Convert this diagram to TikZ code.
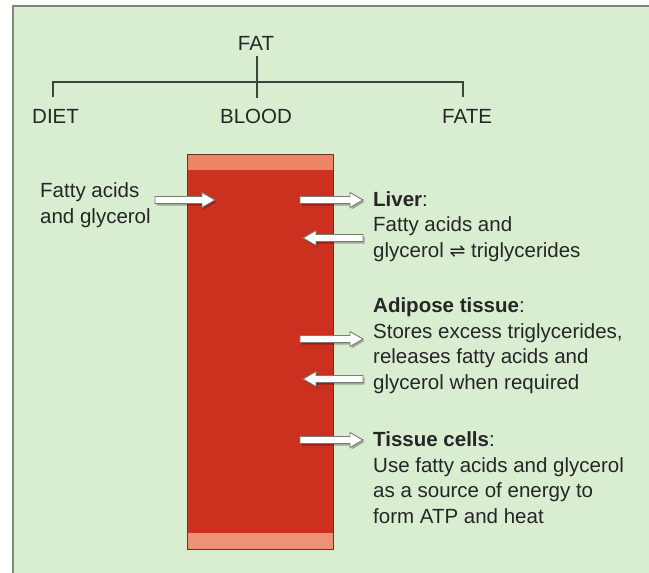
\documentclass[tikz,border=0pt]{standalone}
\usepackage{fontspec}
\setmainfont{Liberation Sans}
\newfontfamily\symfont{DejaVu Sans}
\usetikzlibrary{calc}
\definecolor{panel}{HTML}{D9EDD0}
\definecolor{panelborder}{HTML}{7E887C}
\definecolor{bloodred}{HTML}{CC301E}
\definecolor{bandcol}{HTML}{EC8565}
\definecolor{colborder}{HTML}{6B3326}
\definecolor{textcol}{HTML}{262626}
\definecolor{treecol}{HTML}{3A463A}
\definecolor{arrowgray}{HTML}{7A7A72}
\begin{document}
\begin{tikzpicture}[x=1pt,y=-1pt,
  txt/.style={inner sep=0pt, text=textcol, font=\fontsize{20.5}{25.5}\selectfont, align=left, anchor=base west},
  tree/.style={draw=treecol, line width=1.4pt},
  hollow/.style={draw=arrowgray, fill=white, line width=0.9pt, line join=miter,
    preaction={fill=black, fill opacity=0.28, draw=none, transform canvas={shift={(1.5pt,-2pt)}}},
    to path={let \p1=(\tikztostart), \p2=(\tikztotarget), \p3=($(\tikztotarget)!13pt!(\tikztostart)$) in
      (\x1,\y1+3.5pt) -- (\x3,\y1+3.5pt) -- (\x3,\y1+7.5pt) -- (\x2,\y2) -- (\x3,\y1-7.5pt) -- (\x3,\y1-3.5pt) -- (\x1,\y1-3.5pt) -- cycle}}
]
% canvas and panel
\useasboundingbox (0,0) rectangle (649,573);
\fill[white] (0,0) rectangle (649,573);
\fill[panel] (13,6) rectangle (649,573);
\draw[panelborder, line width=1.6pt] (13,573) -- (13,6) -- (649,6);

% tree
\node[txt, anchor=base] (fat) at (256,50) {FAT};
\node[txt] (diet) at (32,123) {DIET};
\node[txt, anchor=base] (blood) at (256,123) {BLOOD};
\node[txt] (fate) at (442,123) {FATE};
\coordinate (hubTop) at (257,56);
\coordinate (hubBot) at (257,98);
\coordinate (barL) at (53,82);
\coordinate (barR) at (463,82);
\coordinate (dietTop) at (53,97);
\coordinate (fateTop) at (463,97);
\draw[tree] (hubTop) -- (hubBot);
\draw[tree] (dietTop) -- (barL) -- (barR) -- (fateTop);

% blood column
\node[fill=bloodred, minimum width=146pt, minimum height=395pt, inner sep=0pt, anchor=north west] (col) at (187,154) {};
\fill[bandcol] (col.north west) rectangle ([yshift=-16pt]col.north east);
\fill[bandcol!90!white] ([yshift=16pt]col.south west) rectangle (col.south east);
\draw[colborder, line width=0.9pt] (col.north west) rectangle (col.south east);

% texts (base anchor = baseline of last line)
\node[txt] (diettext) at (40,223) {Fatty acids\\and glycerol};
\node[txt] (liver) at (373,257) {\textbf{Liver}:\\Fatty acids and\\glycerol {\symfont\fontsize{19}{19}\selectfont ⇌} triglycerides};
\node[txt] (adipose) at (373,389) {\textbf{Adipose tissue}:\\Stores excess triglycerides,\\releases fatty acids and\\glycerol when required};
\node[txt] (tissue) at (373,523) {\textbf{Tissue cells}:\\Use fatty acids and glycerol\\as a source of energy to\\form ATP and heat};

% arrows
\coordinate (d0) at (155,200); \coordinate (d1) at (215,200);
\coordinate (l0) at (300,200); \coordinate (l1) at (363,200);
\coordinate (l2) at (363,238); \coordinate (l3) at (303,238);
\coordinate (a0) at (300,339); \coordinate (a1) at (363,339);
\coordinate (a2) at (363,379); \coordinate (a3) at (303,379);
\coordinate (t0) at (300,440); \coordinate (t1) at (363,440);
\draw[hollow] (d0) to (d1);
\draw[hollow] (l0) to (l1);
\draw[hollow] (l2) to (l3);
\draw[hollow] (a0) to (a1);
\draw[hollow] (a2) to (a3);
\draw[hollow] (t0) to (t1);
\end{tikzpicture}
\end{document}
